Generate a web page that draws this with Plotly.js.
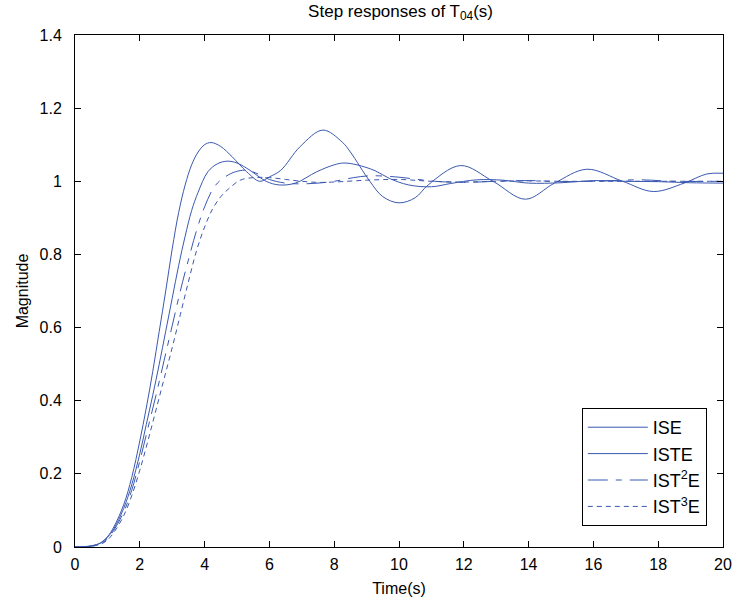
<!DOCTYPE html>
<html>
<head>
<meta charset="utf-8">
<script src="https://cdn.plot.ly/plotly-3.0.1.min.js"></script>
<style>html,body{margin:0;padding:0;background:#fff;}#chart{width:735px;height:605px;}</style>
</head>
<body>
<div id="chart"></div>
<script>
// Series names
const seriesNames = ["ISE", "ISTE", "IST<sup>2</sup>E", "IST<sup>3</sup>E"];

// ISE
const tISE = [0, 0.5, 0.8, 1.0, 1.2, 1.5, 1.75, 2.0, 2.2, 2.4, 2.6, 2.8, 3.0, 3.2, 3.4, 3.6, 3.8, 4.0, 4.2, 4.5, 4.85, 5.3, 5.7, 6.0, 6.35, 6.95, 7.65, 8.25, 8.5, 9.1, 9.5, 10.0, 10.5, 10.9, 11.9, 12.9, 13.9, 14.8, 15.8, 16.9, 17.85, 18.8, 19.5, 20];
const vISE = [0, 0.003, 0.012, 0.028, 0.055, 0.115, 0.19, 0.29, 0.38, 0.48, 0.59, 0.70, 0.815, 0.915, 0.99, 1.045, 1.08, 1.10, 1.106, 1.095, 1.067, 1.026, 1.0, 1.012, 1.03, 1.095, 1.14, 1.107, 1.08, 1.0, 0.958, 0.941, 0.955, 0.99, 1.043, 1.0, 0.951, 0.995, 1.033, 1.0, 0.972, 0.995, 1.02, 1.022];

// ISTE
const tISTE = [0, 0.5, 0.8, 1.0, 1.2, 1.5, 1.75, 2.0, 2.2, 2.4, 2.6, 2.8, 3.0, 3.2, 3.4, 3.6, 3.8, 4.1, 4.4, 4.7, 5.0, 5.4, 5.9, 6.3, 6.8, 7.46, 8.0, 8.3, 8.7, 9.26, 9.7, 10.3, 11.0, 11.6, 12.4, 13.2, 14.0, 15.0, 16.0, 17.0, 18.0, 19.0, 20];
const vISTE = [0, 0.003, 0.011, 0.026, 0.05, 0.105, 0.17, 0.255, 0.335, 0.415, 0.50, 0.59, 0.68, 0.77, 0.85, 0.92, 0.97, 1.026, 1.048, 1.055, 1.05, 1.03, 1.0, 0.99, 0.995, 1.026, 1.045, 1.05, 1.045, 1.029, 1.008, 0.99, 0.985, 0.994, 1.004, 1.003, 0.995, 0.996, 1.002, 1.0, 0.999, 0.996, 0.995];

// IST^2E
const tIST2E = [0, 0.5, 0.8, 1.0, 1.2, 1.5, 1.75, 2.0, 2.25, 2.5, 2.75, 3.0, 3.25, 3.5, 3.75, 4.0, 4.3, 4.6, 4.95, 5.3, 5.65, 6.0, 6.5, 7.0, 7.5, 8.0, 8.6, 9.1, 9.9, 10.5, 11.1, 12.0, 13.0, 14.0, 15.0, 16.0, 17.4, 18.5, 20];
const vIST2E = [0, 0.002, 0.009, 0.022, 0.046, 0.095, 0.155, 0.235, 0.325, 0.415, 0.51, 0.605, 0.70, 0.785, 0.865, 0.93, 0.985, 1.01, 1.026, 1.03, 1.02, 1.005, 0.995, 0.993, 0.995, 1.0, 1.01, 1.015, 1.012, 1.006, 1.0, 0.997, 1.0, 1.002, 0.999, 1.0, 1.004, 1.0, 1.0];

// IST^3E
const tIST3E = [0, 0.5, 0.8, 1.0, 1.2, 1.5, 1.75, 2.0, 2.25, 2.5, 2.75, 3.0, 3.25, 3.5, 3.75, 4.0, 4.25, 4.5, 4.75, 5.1, 5.5, 6.0, 6.5, 7.0, 7.5, 8.0, 9.0, 10.0, 11.0, 12.0, 13.0, 14.0, 15.0, 16.0, 17.0, 18.0, 19.0, 20];
const vIST3E = [0, 0.002, 0.008, 0.019, 0.04, 0.085, 0.14, 0.21, 0.29, 0.375, 0.46, 0.545, 0.635, 0.725, 0.81, 0.875, 0.925, 0.958, 0.98, 1.003, 1.01, 1.01, 1.005, 1.0, 0.997, 0.998, 1.003, 1.005, 1.0, 0.998, 1.0, 1.001, 1.0, 1.0, 1.0, 1.0, 1.0, 1.0];

// Tick labels
const xTicks = [0, 2, 4, 6, 8, 10, 12, 14, 16, 18, 20];
const xTickText = ["0", "2", "4", "6", "8", "10", "12", "14", "16", "18", "20"];
const yTicks = [0, 0.2, 0.4, 0.6, 0.8, 1.0, 1.2, 1.4];
const yTickText = ["0", "0.2", "0.4", "0.6", "0.8", "1", "1.2", "1.4"];

const blue = "#3a58b0";
const xs = [tISE, tISTE, tIST2E, tIST3E];
const ys = [vISE, vISTE, vIST2E, vIST3E];
const dashes = ["solid", "solid", "20px,8px,6px,8px", "5px,4px"];

const traces = xs.map((x, i) => ({
  x: x, y: ys[i], name: seriesNames[i], type: "scatter", mode: "lines",
  line: {color: blue, width: 1, dash: dashes[i], shape: "spline", smoothing: 1}
}));

const fam = "Liberation Sans, Arial, sans-serif";
const font = {family: fam, size: 16, color: "#000"};
const axisCommon = {
  showline: true, linecolor: "#000", linewidth: 1, mirror: "ticks",
  ticks: "inside", ticklen: 6, tickcolor: "#000", tickwidth: 1,
  showgrid: false, zeroline: false, tickfont: font, tickmode: "array"
};

const layout = {
  width: 735, height: 605,
  margin: {l: 75, r: 12, t: 35, b: 58},
  paper_bgcolor: "#fff", plot_bgcolor: "#fff",
  font: font,
  title: {text: "Step responses of T<sub>04</sub>(s)", font: {family: fam, size: 17, color: "#000"}, x: 0.545, xanchor: "center", y: 0.992, yanchor: "top"},
  xaxis: Object.assign({}, axisCommon, {range: [0, 20], tickvals: xTicks, ticktext: xTickText,
    ticklabelstandoff: 3,
    title: {text: "Time(s)", font: font, standoff: 10}}),
  yaxis: Object.assign({}, axisCommon, {range: [0, 1.4], tickvals: yTicks, ticktext: yTickText,
    ticklabelstandoff: 9,
    title: {text: "Magnitude", font: font, standoff: 6}}),
  showlegend: true,
  legend: {x: 0.975, xanchor: "right", y: 0.041, yanchor: "bottom",
    bordercolor: "#000", borderwidth: 1, bgcolor: "#fff",
    font: {family: fam, size: 18, color: "#000"},
    itemwidth: 60, tracegroupgap: 0}
};

Plotly.newPlot("chart", traces, layout, {displayModeBar: false, staticPlot: true});
</script>
</body>
</html>
